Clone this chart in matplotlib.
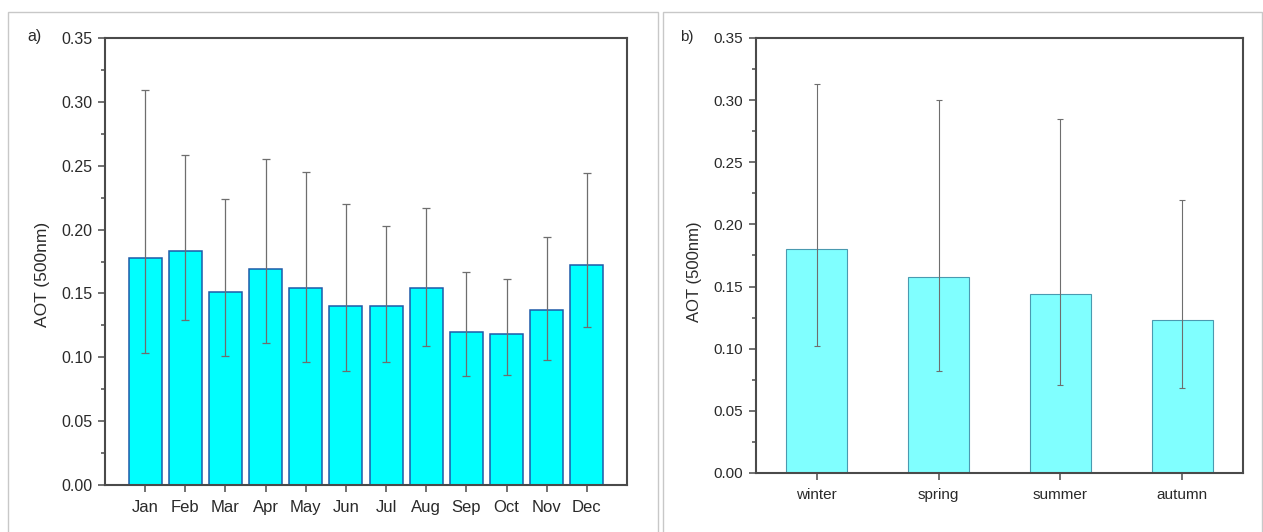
import numpy as np
import matplotlib.pyplot as plt
from matplotlib.patches import Rectangle
from matplotlib.ticker import MultipleLocator

plt.rcParams["font.family"] = ["Liberation Sans", "DejaVu Sans"]

months = ["Jan", "Feb", "Mar", "Apr", "May", "Jun", "Jul", "Aug", "Sep", "Oct", "Nov", "Dec"]
month_mean = [0.178, 0.183, 0.151, 0.169, 0.154, 0.140, 0.140, 0.154, 0.120, 0.118, 0.137, 0.172]
month_low = [0.103, 0.129, 0.101, 0.111, 0.096, 0.089, 0.096, 0.109, 0.085, 0.086, 0.098, 0.124]
month_high = [0.309, 0.258, 0.224, 0.255, 0.245, 0.220, 0.203, 0.217, 0.167, 0.161, 0.194, 0.244]

seasons = ["winter", "spring", "summer", "autumn"]
season_mean = [0.180, 0.158, 0.144, 0.123]
season_low = [0.102, 0.082, 0.071, 0.068]
season_high = [0.313, 0.300, 0.285, 0.220]

W, H = 1263, 532
fig = plt.figure(figsize=(W / 100, H / 100), dpi=100)

# panel frames
for x0, x1 in [(8, 658), (663, 1262)]:
    fig.patches.append(Rectangle((x0 / W, -0.01), (x1 - x0) / W, (H - 12) / H + 0.01,
                                 transform=fig.transFigure, fill=False,
                                 edgecolor="#c8c8c8", linewidth=1.0))

TXT = "#2a2a2a"


def style_axes(ax, fs):
    for s in ax.spines.values():
        s.set_color("#4a4a4a")
        s.set_linewidth(1.5)
    ax.set_ylim(0, 0.35)
    ax.yaxis.set_major_locator(MultipleLocator(0.05))
    ax.yaxis.set_minor_locator(MultipleLocator(0.025))
    ax.yaxis.set_major_formatter(plt.FuncFormatter(lambda v, p: f"{v:.2f}"))
    ax.tick_params(axis="y", which="major", direction="out", length=5, width=1.1, color="#4a4a4a",
                   labelsize=fs, labelcolor=TXT, pad=4)
    ax.tick_params(axis="y", which="minor", direction="out", length=3, width=1.1, color="#4a4a4a")
    ax.tick_params(axis="x", direction="out", length=5, width=1.1, color="#4a4a4a",
                   labelcolor=TXT, pad=6)


# a) monthly
ax1 = fig.add_axes([105 / W, 1 - 485 / H, (627 - 105) / W, (485 - 38) / H])
x = np.arange(1, 13)
m = np.array(month_mean)
yerr = [m - np.array(month_low), np.array(month_high) - m]
ax1.bar(x, m, width=0.82, color="#00ffff", edgecolor="#1e5aa8", linewidth=1.1, zorder=2)
ax1.errorbar(x, m, yerr=yerr, fmt="none", ecolor="#6e6e6e", elinewidth=0.9,
             capsize=3, capthick=0.9, zorder=3)
ax1.set_xlim(0, 13)
ax1.set_xticks(x)
ax1.set_xticklabels(months, fontsize=12)
style_axes(ax1, 11.5)
fig.text(42 / W, 1 - 274 / H, "AOT (500nm)", rotation=90, ha="center", va="center",
         fontsize=12.5, color=TXT)
fig.text(27 / W, 1 - 37 / H, "a)", fontsize=11.5, color=TXT, va="center")

# b) seasonal
ax2 = fig.add_axes([756 / W, 1 - 473 / H, (1243 - 756) / W, (473 - 38) / H])
xs = np.arange(1, 5)
s = np.array(season_mean)
serr = [s - np.array(season_low), np.array(season_high) - s]
ax2.bar(xs, s, width=0.5, color="#80ffff", edgecolor="#4a9ab0", linewidth=0.8, zorder=2)
ax2.errorbar(xs, s, yerr=serr, fmt="none", ecolor="#6e6e6e", elinewidth=0.8,
             capsize=2, capthick=0.8, zorder=3)
ax2.set_xlim(0.5, 4.5)
ax2.set_xticks(xs)
ax2.set_xticklabels(seasons, fontsize=11)
style_axes(ax2, 11)
fig.text(695 / W, 1 - 272 / H, "AOT (500nm)", rotation=90, ha="center", va="center",
         fontsize=12, color=TXT)
fig.text(680 / W, 1 - 37 / H, "b)", fontsize=11, color=TXT, va="center")

fig.savefig("out.png", dpi=100)
